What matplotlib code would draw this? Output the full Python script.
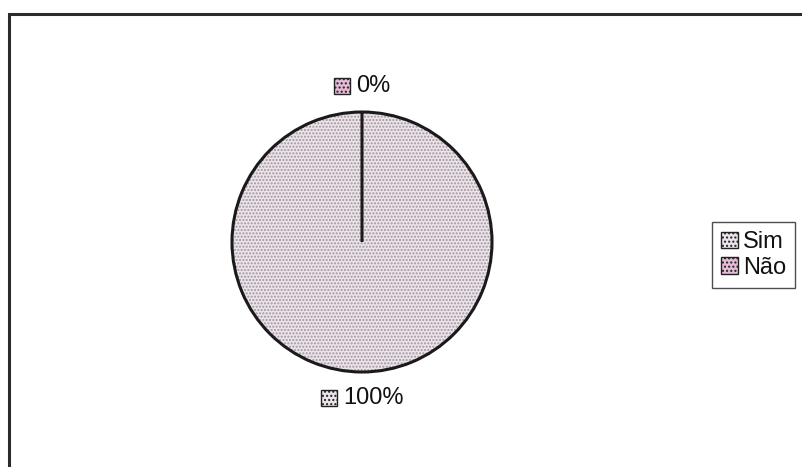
import matplotlib.pyplot as plt
from matplotlib.patches import Rectangle, Patch
from matplotlib.offsetbox import AnnotationBbox, HPacker, TextArea, DrawingArea
import numpy as np

# data
categories = ["Sim", "Não"]
values = [100, 0]
pct_labels = ["100%", "0%"]
fill_colors = ["#ede4eb", "#e6bcd6"]
dot_colors = ["#9d949c", "#b0608e"]

plt.rcParams['font.family'] = ['Liberation Sans', 'DejaVu Sans']

W, H = 802, 467
fig = plt.figure(figsize=(W / 100, H / 100), dpi=100)

# chart border (runs off the right and bottom of the picture)
fig.patches.append(Rectangle((9 / W, -0.02), 1.02, 1 - 14 / H + 0.02,
                             transform=fig.transFigure, fill=False,
                             edgecolor="#2b2b2b", linewidth=2.2))

# pie axes: centre (362, 242) px, radius 130 px
r = 130
cx, cy = 362, 242
half = 200
ax = fig.add_axes([(cx - half) / W, (H - cy - half) / H, 2 * half / W, 2 * half / H])
ax.axis('off')

# dotted fill
wedges, _ = ax.pie(values, colors=fill_colors, startangle=90, counterclock=False,
                   wedgeprops=dict(linewidth=0, hatch='.....'))
for w, dc in zip(wedges, dot_colors):
    w.set_edgecolor(dc)
    w.set_linewidth(0)

# outlines (the empty slice gives the radius line to the top)
ax.pie(values, colors=['none'] * len(values), startangle=90, counterclock=False,
       wedgeprops=dict(linewidth=2.2, edgecolor='#1a1a1a', fill=False))

ax.set_xlim(-half / r, half / r)
ax.set_ylim(-half / r, half / r)
ax.set_aspect('equal')

# percentage labels with small pattern keys
total = sum(values)
start = 90.0
for v, lab, fc in zip(values, pct_labels, fill_colors):
    sweep = 360.0 * v / total
    mid = np.deg2rad(start - sweep / 2)
    start -= sweep
    x, y = 1.2 * np.cos(mid), 1.2 * np.sin(mid)
    da = DrawingArea(12, 12, 0, 0)
    da.add_artist(Rectangle((0, 0), 12, 12, facecolor=fc, edgecolor='#222222',
                            linewidth=1.0, hatch='....'))
    ta = TextArea(lab, textprops=dict(fontsize=17, color='#111111'))
    box = HPacker(children=[da, ta], align='center', pad=0, sep=4)
    ab = AnnotationBbox(box, (x, y), frameon=False, box_alignment=(0.5, 0.5))
    ax.add_artist(ab)

# legend
handles = [Patch(facecolor=fc, edgecolor='#222222', hatch='....', linewidth=1.0)
           for fc in fill_colors]
leg = fig.legend(handles, categories, loc='upper left',
                 bbox_to_anchor=(712 / W, 1 - 222 / H), fontsize=17,
                 frameon=True, fancybox=False, edgecolor='#222222',
                 handlelength=0.7, handleheight=0.7, handletextpad=0.2,
                 labelspacing=0.15, borderpad=0.4, borderaxespad=0)
leg.get_frame().set_linewidth(1.0)
for t in leg.get_texts():
    t.set_color('#111111')

fig.savefig("out.png", dpi=100)
